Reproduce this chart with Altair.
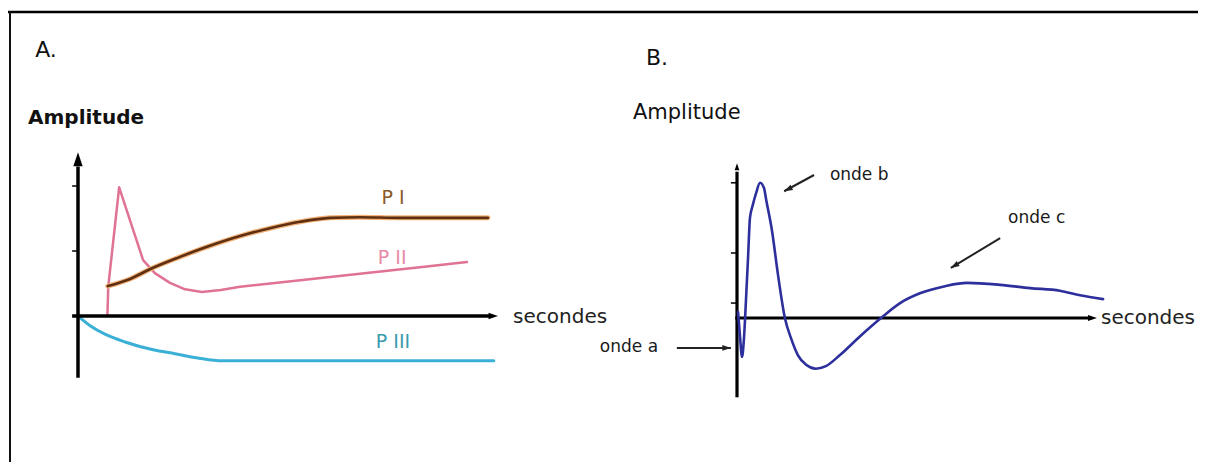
import altair as alt
import pandas as pd

# ---------------- Panel A (arbitrary units: t = time, a = amplitude) ----------------
pI_t = [0.71, 1.24, 1.71, 2.43, 3.14, 3.86, 4.57, 5.29, 6.00, 6.71, 7.67, 9.76]
pI_a = [0.46, 0.57, 0.72, 0.91, 1.08, 1.23, 1.35, 1.45, 1.51, 1.52, 1.51, 1.51]

pII_t = [0.70, 0.72, 0.98, 1.55, 1.83, 2.19, 2.55, 2.95, 3.40, 3.86, 5.29, 6.71, 8.14, 9.26]
pII_a = [0.00, 0.45, 1.98, 0.86, 0.66, 0.51, 0.41, 0.37, 0.40, 0.45, 0.55, 0.65, 0.75, 0.83]

pIII_t = [0.05, 0.29, 0.64, 1.12, 1.79, 2.31, 2.88, 3.43, 4.33, 9.90]
pIII_a = [-0.03, -0.15, -0.28, -0.40, -0.52, -0.58, -0.65, -0.69, -0.69, -0.69]

A_ticks = [1.0, 2.0]
A_xaxis = [-0.14, 9.8]       # t range of the time axis
A_yaxis = [-0.95, 2.3]       # a range of the amplitude axis
A_arrow_t = [10.0, 0.0]
A_arrow_a = [0.0, 2.52]

A_lab_text = ["P I", "P II", "P III"]
A_lab_t = [7.5, 7.48, 7.5]
A_lab_a = [1.82, 0.89, -0.40]
A_lab_col = ["#8a5a28", "#e88aa8", "#3a9aae"]

A_head = ["A.", "Amplitude", "secondes"]
A_head_t = [-1.02, -1.19, 10.36]
A_head_a = [4.09, 3.05, -0.02]

# ---------------- Panel B ----------------
erg_t = [0.03, 0.08, 0.14, 0.19, 0.25, 0.31, 0.36, 0.44, 0.53, 0.64, 0.75, 0.81, 0.97,
         1.14, 1.33, 1.50, 1.69, 1.92, 2.19, 2.47, 2.86, 3.42, 4.00, 4.53, 5.08, 5.78,
         6.39, 7.31, 8.14, 8.97, 9.53, 10.17]
erg_a = [0.09, -0.26, -0.60, -0.34, 0.28, 0.97, 1.54, 1.74, 1.92, 2.08, 2.00, 1.82, 1.35,
         0.66, 0.00, -0.31, -0.57, -0.72, -0.78, -0.74, -0.57, -0.28, 0.00, 0.23, 0.38, 0.49,
         0.54, 0.51, 0.46, 0.42, 0.35, 0.29]

B_ticks = [0.23, 1.0, 2.08]
B_xaxis = [-0.05, 9.85]
B_yaxis = [-1.22, 2.25]
B_arrow_t = [10.0, 0.0]
B_arrow_a = [0.0, 2.38]

B_ann_text = ["onde b", "onde c", "onde a"]
B_ann_t = [2.58, 7.53, -3.81]
B_ann_a = [2.20, 1.54, -0.45]
B_ann_from_t = [2.14, 7.31, -1.67]
B_ann_from_a = [2.20, 1.23, -0.46]
B_ann_to_t = [1.31, 5.94, -0.17]
B_ann_to_a = [1.95, 0.77, -0.46]
B_ann_ang = [243, 239, 90]

B_head = ["B.", "Amplitude", "secondes"]
B_head_t = [-2.53, -2.89, 10.11]
B_head_a = [4.0, 3.15, 0.0]

# ---------------- layout ----------------
W, H = 1190, 454
FONT = "DejaVu Sans"
ARROW = "M0,0L-0.6,1.8L0.6,1.8Z"


def scales(ox, oy, kx, ky):
    xs = alt.Scale(domain=[-ox / kx, (W - ox) / kx], nice=False, zero=False)
    ys = alt.Scale(domain=[-(H - oy) / ky, oy / ky], nice=False, zero=False)
    return xs, ys


xsA, ysA = scales(70, 308, 42, 65)
xsB, ysB = scales(729, 310, 36, 65)


def X(f, s):
    return alt.X(f, type="quantitative", scale=s, axis=None)


def Y(f, s):
    return alt.Y(f, type="quantitative", scale=s, axis=None)


def curve(t, a, color, xs, ys, width=3, interp="linear"):
    d = pd.DataFrame({"t": t, "a": a, "i": list(range(len(t)))})
    return alt.Chart(d).mark_line(color=color, strokeWidth=width, interpolate=interp,
                                  strokeCap="round", strokeJoin="round").encode(
        x=X("t", xs), y=Y("a", ys), order="i:Q")


def segs(t1, a1, t2, a2, xs, ys, width=3, color="black"):
    d = pd.DataFrame({"t1": t1, "a1": a1, "t2": t2, "a2": a2})
    return alt.Chart(d).mark_rule(color=color, strokeWidth=width).encode(
        x=X("t1", xs), y=Y("a1", ys), x2="t2", y2="a2")


def heads(t, a, ang, xs, ys, size, color="black"):
    d = pd.DataFrame({"t": t, "a": a, "ang": ang})
    return alt.Chart(d).mark_point(shape=ARROW, filled=True, color=color, opacity=1,
                                   size=size, strokeWidth=0).encode(
        x=X("t", xs), y=Y("a", ys), angle=alt.Angle("ang:Q", scale=None))


def texts(txt, t, a, xs, ys, size, weight="normal", color="#1a1a1a", align="left"):
    d = pd.DataFrame({"txt": txt, "t": t, "a": a})
    return alt.Chart(d).mark_text(font=FONT, fontSize=size, fontWeight=weight, color=color,
                                  align=align, baseline="middle").encode(
        x=X("t", xs), y=Y("a", ys), text="txt:N")


blank = alt.Data(values=[{}])

border_top = alt.Chart(blank).mark_rule(color="black", strokeWidth=2.5).encode(
    x=alt.value(0), x2=alt.value(W), y=alt.value(4), y2=alt.value(4))
border_left = alt.Chart(blank).mark_rule(color="#111", strokeWidth=2).encode(
    x=alt.value(2), x2=alt.value(2), y=alt.value(3), y2=alt.value(H))

# ---------- Panel A layers ----------
axesA = segs([A_xaxis[0], 0.0], [0.0, A_yaxis[0]], [A_xaxis[1], 0.0], [0.0, A_yaxis[1]],
             xsA, ysA, width=3.5)
ticksA = segs([-0.14] * len(A_ticks), A_ticks, [0.0] * len(A_ticks), A_ticks, xsA, ysA, width=1.5)

panelA = alt.layer(
    curve(pIII_t, pIII_a, "#3ab0d6", xsA, ysA, interp="monotone"),
    curve(pII_t, pII_a, "#e07294", xsA, ysA, width=2.5),
    curve(pI_t, pI_a, "#f3b27a", xsA, ysA, width=5, interp="monotone"),
    curve(pI_t, pI_a, "#5e2f10", xsA, ysA, width=2.6, interp="monotone"),
    axesA, ticksA,
    heads([A_arrow_t[0]], [A_arrow_a[0]], [90], xsA, ysA, size=110),
    heads([A_arrow_t[1]], [A_arrow_a[1]], [0], xsA, ysA, size=240),
    texts(A_lab_text[0:1], A_lab_t[0:1], A_lab_a[0:1], xsA, ysA, 19, color=A_lab_col[0], align="center"),
    texts(A_lab_text[1:2], A_lab_t[1:2], A_lab_a[1:2], xsA, ysA, 19, color=A_lab_col[1], align="center"),
    texts(A_lab_text[2:3], A_lab_t[2:3], A_lab_a[2:3], xsA, ysA, 19, color=A_lab_col[2], align="center"),
    texts(A_head[0:1], A_head_t[0:1], A_head_a[0:1], xsA, ysA, 22, color="#111"),
    texts(A_head[1:2], A_head_t[1:2], A_head_a[1:2], xsA, ysA, 20, weight="bold", color="#111"),
    texts(A_head[2:3], A_head_t[2:3], A_head_a[2:3], xsA, ysA, 20, color="#222"),
)

# ---------- Panel B layers ----------
axesB = segs([B_xaxis[0], 0.0], [0.0, B_yaxis[0]], [B_xaxis[1], 0.0], [0.0, B_yaxis[1]],
             xsB, ysB, width=3.2)
ticksB = segs([-0.17] * len(B_ticks), B_ticks, [0.0] * len(B_ticks), B_ticks, xsB, ysB, width=1.5)
annB = segs(B_ann_from_t, B_ann_from_a, B_ann_to_t, B_ann_to_a, xsB, ysB, width=2, color="#222")

panelB = alt.layer(
    axesB, ticksB,
    heads([B_arrow_t[0]], [B_arrow_a[0]], [90], xsB, ysB, size=100),
    heads([B_arrow_t[1]], [B_arrow_a[1]], [0], xsB, ysB, size=60),
    curve(erg_t, erg_a, "#2d2f9c", xsB, ysB, width=2.6, interp="monotone"),
    annB,
    heads(B_ann_to_t, B_ann_to_a, B_ann_ang, xsB, ysB, size=90, color="#222"),
    texts(B_ann_text, B_ann_t, B_ann_a, xsB, ysB, 17, color="#1a1a1a"),
    texts(B_head[0:1], B_head_t[0:1], B_head_a[0:1], xsB, ysB, 22, color="#111"),
    texts(B_head[1:2], B_head_t[1:2], B_head_a[1:2], xsB, ysB, 21, color="#111"),
    texts(B_head[2:3], B_head_t[2:3], B_head_a[2:3], xsB, ysB, 20, color="#222"),
)

chart = alt.layer(border_top, border_left, panelA, panelB).resolve_scale(
    x="independent", y="independent"
).properties(
    width=W, height=H, padding=0, autosize=alt.AutoSizeParams(type="none")
).configure_view(stroke=None)

chart.save("out.html", embed_options={"renderer": "svg", "actions": False})
